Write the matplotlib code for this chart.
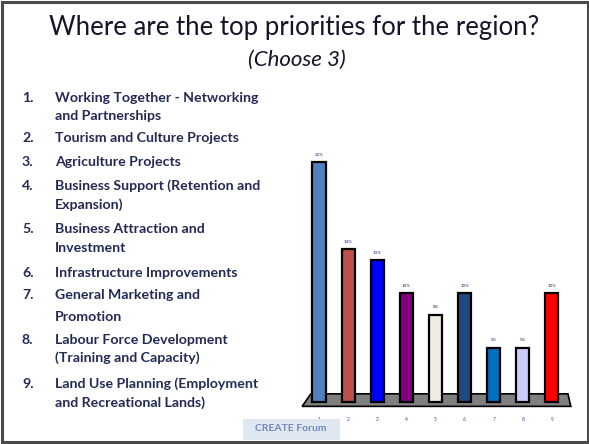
import matplotlib.pyplot as plt
from matplotlib.patches import Polygon, Rectangle

priorities = [
    "Working Together - Networking\nand Partnerships",
    "Tourism and Culture Projects",
    "Agriculture Projects",
    "Business Support (Retention and\nExpansion)",
    "Business Attraction and\nInvestment",
    "Infrastructure Improvements",
    "General Marketing and\nPromotion",
    "Labour Force Development\n(Training and Capacity)",
    "Land Use Planning (Employment\nand Recreational Lands)",
]
item_numbers = [1, 2, 3, 4, 5, 6, 7, 8, 9]
percent = [22, 14, 13, 10, 8, 10, 5, 5, 10]
bar_colors = ["#4f81bd", "#c0504d", "#0000ff", "#800080", "#eeece1",
              "#1f497d", "#0070c0", "#ccccff", "#ff0000"]

W, H = 589, 444
plt.rcParams['font.family'] = ['Lato', 'DejaVu Sans']
fig = plt.figure(figsize=(W / 100, H / 100), dpi=100)
fig.patch.set_facecolor("white")

def fy(py):
    return 1 - py / H

# frame round the slide
fig.patches.append(Rectangle((2 / W, 2 / H), (W - 3) / W, (H - 4) / H,
                             transform=fig.transFigure, fill=False,
                             edgecolor="#4a4a4a", lw=2.2))

fig.text(0.5, fy(28), "Where are the top priorities for the region?",
         ha="center", va="center", fontsize=18.5, color="#15152a")
fig.text(297 / W, fy(60), "(Choose 3)", ha="center", va="center",
         fontsize=16, style="italic", color="#15152a")

# numbered list on the left
text_col = "#232a55"
row_y = [98, 138, 162, 186, 229, 273, 295, 340, 384]
line_gap = [18, 0, 0, 19, 19, 0, 22, 18, 19]
for n, label, y, gap in zip(item_numbers, priorities, row_y, line_gap):
    fig.text(22 / W, fy(y), f"{n}.", ha="left", va="center",
             fontsize=10.2, fontweight="bold", color=text_col)
    for k, line in enumerate(label.split("\n")):
        fig.text(55 / W, fy(y + k * gap), line, ha="left", va="center",
                 fontsize=10.2, fontweight="bold", color=text_col)

# bar chart
ax_left, ax_right = 300, 572
ax_bottom_px, px_per_unit = 402, 10.9
ylo, yhi = -1.0, 25.0
ax = fig.add_axes([ax_left / W, fy(ax_bottom_px - ylo * px_per_unit),
                   (ax_right - ax_left) / W, (yhi - ylo) * px_per_unit / H])
ax.set_xlim(0.347, 9.69)
ax.set_ylim(ylo, yhi)
ax.axis("off")

# grey floor under the bars
floor = Polygon([[0.42, -0.4], [0.72, 0.75], [9.55, 0.75], [9.65, -0.4]],
                closed=True, facecolor="#7f7f7f", edgecolor="black", lw=1.2,
                zorder=1)
ax.add_patch(floor)

ax.bar(item_numbers, percent, width=0.45, bottom=0, color=bar_colors,
       edgecolor="black", linewidth=1.6, zorder=2)
for x, v in zip(item_numbers, percent):
    ax.text(x, v + 0.5, f"{v}%", ha="center", va="bottom", fontsize=3.2,
            color="#1f2a6a", zorder=3)
    ax.text(x, -1.4, str(x), ha="center", va="top", fontsize=3.5,
            color="#3a4a8a", clip_on=False)

# logo box
fig.patches.append(Rectangle((243 / W, fy(440)), 97 / W, 21 / H,
                             transform=fig.transFigure, facecolor="#dfe7f2",
                             edgecolor="none"))
fig.text(291 / W, fy(428), "CREATE Forum", ha="center", va="center",
         fontsize=7.5, fontweight="bold", color="#7088bb")

fig.savefig("out.png", dpi=100, facecolor="white")
